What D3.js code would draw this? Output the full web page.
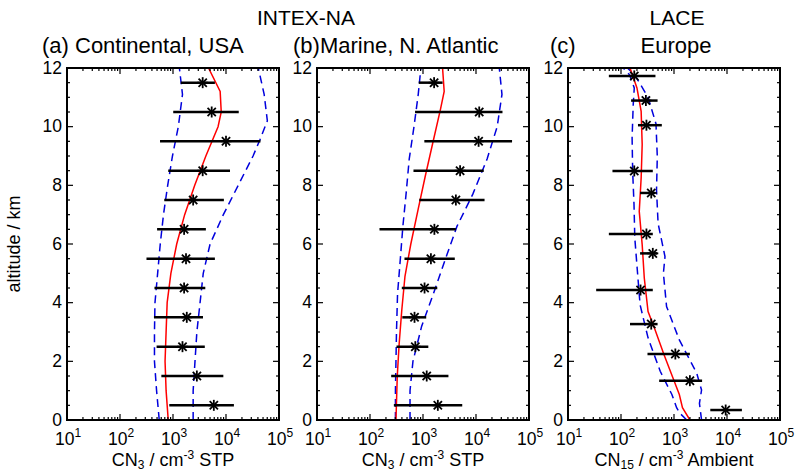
<!DOCTYPE html>
<html><head><meta charset="utf-8">
<script src="https://cdn.jsdelivr.net/npm/d3@7"></script>
<style>body{margin:0;background:#fff}svg{display:block;font-family:"Liberation Sans",Arial,sans-serif}</style>
</head><body><svg id="c" width="795" height="471"></svg>
<script>
// ---------- data ----------
const xTickLabels = ["1","2","3","4","5"];          // exponents of 10
const yTickLabels = [0,2,4,6,8,10,12];

// Panel (a) Continental USA: altitude, median, lower, upper
const aAlt = [11.5,10.5,9.5,8.5,7.5,6.5,5.5,4.5,3.5,2.5,1.5,0.5];
const aMed = [3630,5370,10000,3630,2400,1620,1760,1620,1820,1510,2820,5890];
const aLo  = [1400,1010,569,813,684,501,316,447,437,490,603,851];
const aHi  = [6170,17400,44700,11900,9120,4170,6170,4070,3680,3980,8910,14100];
const aRedAlt = [0,1,2,3,4,5,6,7,8,9,10,10.5,11.2,12];
const aRed    = [813,741,708,741,776,912,1175,1660,2570,4170,7080,8130,7760,4680];
const aBlueLoAlt = [0,1,2,3,4,5,6,7,8,9,10,11.1,12];
const aBlueLo    = [550,490,447,447,457,513,575,661,794,977,1260,1510,1320];
const aBlueHiAlt = [0,1,2,3,4,5,6,7,8,9,9.55,10.2,11.1,12];
const aBlueHi    = [2400,2400,2600,2820,3240,3720,5010,8910,17000,32400,43600,60300,52500,40700];

// Panel (b) Marine N. Atlantic
const bAlt = [11.5,10.5,9.5,8.5,7.5,6.5,5.5,4.5,3.5,2.5,1.5,0.5];
const bMed = [1620,11500,11200,5010,4170,1640,1410,1070,692,716,1175,1905];
const bLo  = [832,708,1060,661,851,151,447,398,407,316,251,282];
const bHi  = [2340,31600,47900,14000,14500,4170,3980,1860,1150,1260,3020,5500];
const bRedAlt = [0,1.5,2.6,3.75,4.9,6.0,7.2,8.3,9.4,10.6,11.2,12];
const bRed    = [309,327,355,398,457,589,813,1100,1510,2140,2510,2340];
const bBlueLoAlt = [0,1,2,3,4.3,5.45,6.6,7.7,8.9,10,11.1,12];
const bBlueLo    = [302,302,309,316,331,372,417,479,550,676,813,912];
const bBlueHiAlt = [0,1,2,3.2,4.3,5.45,6.6,7.7,8.9,10,11.1,12];
const bBlueHi    = [569,569,646,944,1570,2600,4370,8710,16200,25100,30900,27500];

// Panel (c) LACE Europe
const cAlt = [11.73,10.89,10.05,8.49,7.74,6.34,5.68,4.43,3.27,2.25,1.34,0.34];
const cMed = [178,295,302,178,372,302,398,234,372,1060,1995,9440];
const cLo  = [59,155,209,69,229,59,229,34,148,316,525,4840];
const cHi  = [447,490,589,398,437,398,484,398,490,1995,3390,19100];
const cRedAlt = [0,0.42,0.87,1.32,2.23,3.14,3.70,4.84,5.98,7.11,8.25,9.39,10.52,11.32,12];
const cRed    = [1995,1445,1260,1010,646,427,324,275,251,221,240,251,240,200,148];
const cBlueLoAlt = [0,0.23,0.42,0.87,1.66,2.80,3.93,5.07,6.21,7.35,8.48,9.62,10.75,11.32,11.77,12];
const cBlueLo    = [1740,1290,1120,912,550,324,229,204,182,176,166,162,170,178,145,110];
const cBlueHiAlt = [0,0.57,1.02,1.59,2.73,3.87,5.0,5.57,6.70,7.84,8.98,10.1,11.0,11.77,12];
const cBlueHi    = [3310,3020,3310,2690,1260,724,631,676,501,468,484,457,324,182,132];

const panelTitles = ["(a) Continental, USA","(b)Marine, N. Atlantic","Europe"];
const xTitles = [["CN","3"," / cm","-3"," STP"],["CN","3"," / cm","-3"," STP"],["CN","15"," / cm","-3"," Ambient"]];

// ---------- layout ----------
const svg = d3.select("#c");
const pLeft = [67,317,568], W = 212, yTop = 68, yBot = 420;
const y = d3.scaleLinear().domain([0,12]).range([yBot, yTop]);
const defs = svg.append("defs");

const panels = [
  {alt:aAlt,med:aMed,lo:aLo,hi:aHi,red:[aRedAlt,aRed],bl:[aBlueLoAlt,aBlueLo],bh:[aBlueHiAlt,aBlueHi]},
  {alt:bAlt,med:bMed,lo:bLo,hi:bHi,red:[bRedAlt,bRed],bl:[bBlueLoAlt,bBlueLo],bh:[bBlueHiAlt,bBlueHi]},
  {alt:cAlt,med:cMed,lo:cLo,hi:cHi,red:[cRedAlt,cRed],bl:[cBlueLoAlt,cBlueLo],bh:[cBlueHiAlt,cBlueHi]}
];

panels.forEach((p,i)=>{
  const x = d3.scaleLog().domain([10,1e5]).range([pLeft[i], pLeft[i]+W]);
  const g = svg.append("g");
  const cid = "clip"+i;
  defs.append("clipPath").attr("id",cid).append("rect")
     .attr("x",pLeft[i]).attr("y",yTop).attr("width",W).attr("height",yBot-yTop);
  const plot = g.append("g").attr("clip-path",`url(#${cid})`);

  const line = d3.line().x(d=>x(d[1])).y(d=>y(d[0]));
  const pairs = (arr)=>arr[0].map((a,k)=>[a,arr[1][k]]);
  plot.append("path").attr("d",line(pairs(p.bl))).attr("fill","none")
     .attr("stroke","#0000dd").attr("stroke-width",1.5).attr("stroke-dasharray","8,5");
  plot.append("path").attr("d",line(pairs(p.bh))).attr("fill","none")
     .attr("stroke","#0000dd").attr("stroke-width",1.5).attr("stroke-dasharray","8,5");
  plot.append("path").attr("d",line(pairs(p.red))).attr("fill","none")
     .attr("stroke","#ff0000").attr("stroke-width",1.5);

  // error bars
  plot.selectAll(".eb").data(p.alt).enter().append("line")
     .attr("x1",(d,k)=>x(p.lo[k])).attr("x2",(d,k)=>x(p.hi[k]))
     .attr("y1",d=>y(d)).attr("y2",d=>y(d))
     .attr("stroke","#000").attr("stroke-width",2.5);
  // asterisk markers
  const s = 5.5;
  const mk = plot.selectAll(".mk").data(p.alt).enter().append("g")
     .attr("transform",(d,k)=>`translate(${x(p.med[k])},${y(d)})`);
  [[-s,0,s,0],[0,-s,0,s],[-s*0.75,-s*0.75,s*0.75,s*0.75],[-s*0.75,s*0.75,s*0.75,-s*0.75]].forEach(c=>{
    mk.append("line").attr("x1",c[0]).attr("y1",c[1]).attr("x2",c[2]).attr("y2",c[3])
      .attr("stroke","#000").attr("stroke-width",1.8);
  });

  // ticks (inside, all four sides)
  const tk = g.append("g").attr("stroke","#000").attr("stroke-width",1.2);
  for(let e=1;e<=4;e++){
    for(let m=1;m<=9;m++){
      const v = m*Math.pow(10,e); const L = m===1?6:3; const xx = x(v);
      tk.append("line").attr("x1",xx).attr("x2",xx).attr("y1",yBot).attr("y2",yBot-L);
      tk.append("line").attr("x1",xx).attr("x2",xx).attr("y1",yTop).attr("y2",yTop+L);
    }
  }
  for(let a=0;a<=12;a+=0.5){
    const L = (a%2===0)?6:3; const yy=y(a);
    tk.append("line").attr("x1",pLeft[i]).attr("x2",pLeft[i]+L).attr("y1",yy).attr("y2",yy);
    tk.append("line").attr("x1",pLeft[i]+W).attr("x2",pLeft[i]+W-L).attr("y1",yy).attr("y2",yy);
  }
  // frame
  g.append("rect").attr("x",pLeft[i]).attr("y",yTop).attr("width",W).attr("height",yBot-yTop)
    .attr("fill","none").attr("stroke","#000").attr("stroke-width",2);

  // y tick labels
  g.selectAll(".yl").data(yTickLabels).enter().append("text")
    .attr("x",pLeft[i]-5).attr("y",d=>y(d)+5.5).attr("text-anchor","end")
    .attr("font-size",17.5).text(d=>d);
  // x tick labels
  xTickLabels.forEach(e=>{
    const t = g.append("text").attr("x",x(Math.pow(10,+e))+1).attr("y",445)
      .attr("text-anchor","middle").attr("font-size",17.5);
    t.append("tspan").text("10");
    t.append("tspan").attr("font-size",12).attr("dy",-8).text(e);
  });
  // x title
  const xt = g.append("text").attr("x",pLeft[i]+W/2).attr("y",466).attr("text-anchor","middle").attr("font-size",18);
  const parts = xTitles[i];
  xt.append("tspan").text(parts[0]);
  xt.append("tspan").attr("font-size",12).attr("dy",2.5).text(parts[1]);
  xt.append("tspan").attr("dy",-2.5).text(parts[2]);
  xt.append("tspan").attr("font-size",12).attr("dy",-7).text(parts[3]);
  xt.append("tspan").attr("dy",7).text(parts[4]);
});

// titles
svg.append("text").attr("x",306).attr("y",25).attr("text-anchor","middle").attr("font-size",21).text("INTEX-NA");
svg.append("text").attr("x",677).attr("y",25).attr("text-anchor","middle").attr("font-size",21).text("LACE");
svg.append("text").attr("x",42).attr("y",52.5).attr("font-size",22).text(panelTitles[0]);
svg.append("text").attr("x",293).attr("y",52.5).attr("font-size",22).text(panelTitles[1]);
svg.append("text").attr("x",550).attr("y",52.5).attr("font-size",22).text("(c)");
svg.append("text").attr("x",676).attr("y",52.5).attr("text-anchor","middle").attr("font-size",22).text(panelTitles[2]);
// y axis title
svg.append("text").attr("transform","translate(20,244) rotate(-90)").attr("text-anchor","middle")
  .attr("font-size",18).text("altitude / km");
</script></body></html>
